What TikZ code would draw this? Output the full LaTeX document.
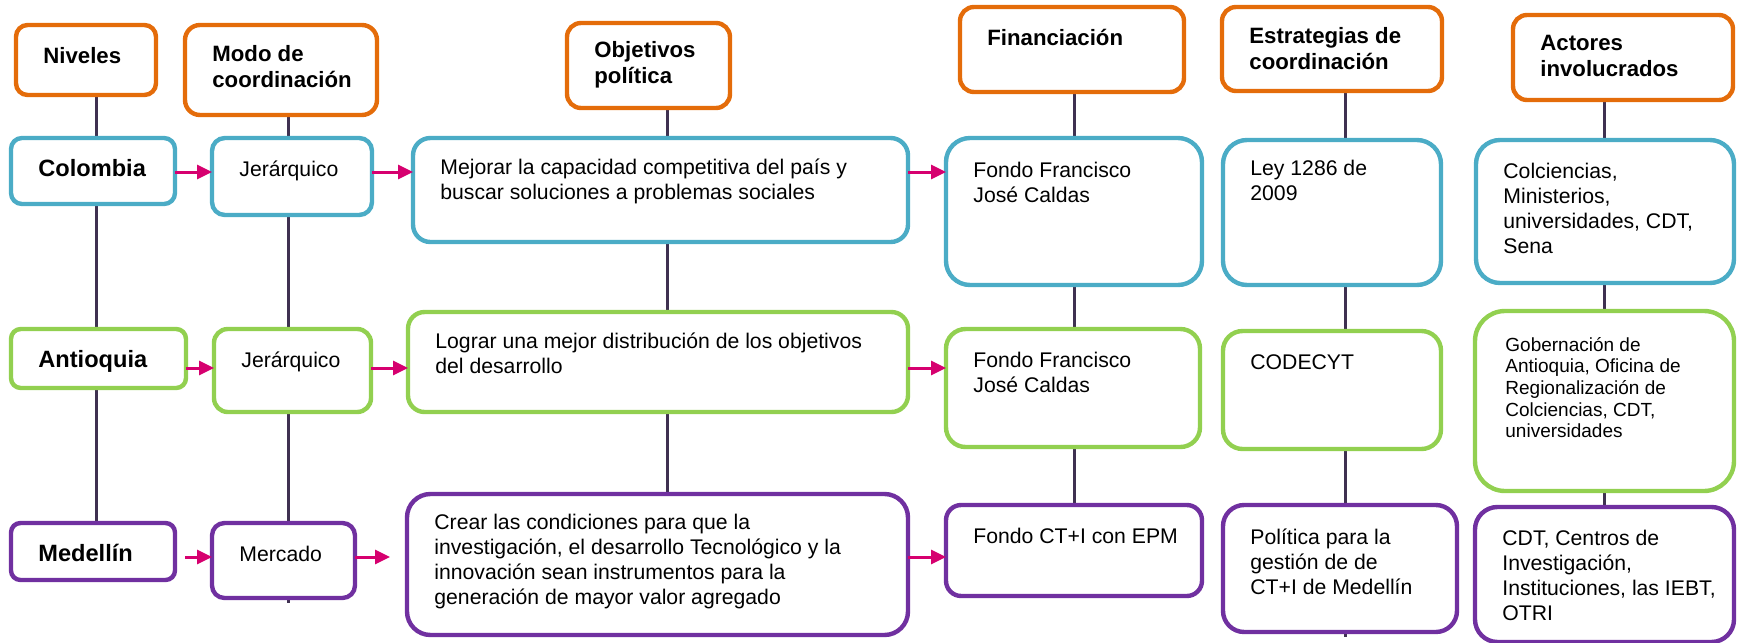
\documentclass[tikz,border=0pt]{standalone}
\usepackage{fontspec}
\setmainfont{Liberation Sans}
\usetikzlibrary{arrows.meta,backgrounds,calc}
\definecolor{naranja}{RGB}{228,108,10}
\definecolor{celeste}{RGB}{75,172,198}
\definecolor{verde}{RGB}{146,208,80}
\definecolor{morado}{RGB}{112,48,160}
\definecolor{fucsia}{RGB}{214,0,111}
\definecolor{oscuro}{RGB}{63,49,81}
\newcommand{\fcab}{\bfseries\fontsize{11.1}{13}\selectfont}
\newcommand{\fniv}{\bfseries\fontsize{11.8}{14}\selectfont}
\newcommand{\ftxt}{\fontsize{10.6}{12.5}\selectfont}
\newcommand{\fpeq}{\fontsize{9.5}{10.8}\selectfont}
\tikzset{
  caja/.style={draw, line width=2.2pt, fill=white, inner sep=0pt, outer sep=0pt, anchor=north west},
  cab/.style={caja, draw=naranja},
  fila1/.style={caja, draw=celeste},
  fila2/.style={caja, draw=verde},
  fila3/.style={caja, draw=morado},
  txt/.style={anchor=north west, inner sep=0pt, align=left, xshift=13.5pt, yshift=-10pt,
    font=\ftxt, execute at begin node={\rule{0pt}{9pt}}},
  flecha/.style={fucsia, line width=1.5pt, -{Triangle[length=7.5pt,width=7pt]}},
  linea/.style={oscuro, line width=1.5pt},
}
\begin{document}
\begin{tikzpicture}[x=0.5pt, y=-0.5pt]
	\useasboundingbox (0,0) rectangle (1737,643);
	% Spalten und Zeilen
	\coordinate (k1) at (96,0);
	\coordinate (k2) at (288,0);
	\coordinate (k3) at (667,0);
	\coordinate (k4) at (1074,0);
	\coordinate (k5) at (1345,0);
	\coordinate (k6) at (1604,0);
	\coordinate (f1) at (0,172);
	\coordinate (f2) at (0,368);
	\coordinate (f3) at (0,557);
	% Encabezados
	\node[cab, minimum width=70pt, minimum height=35pt, rounded corners=5.8pt,
		label={[txt,font=\fcab]north west:Niveles}] (niv) at (16,25) {};
	\node[cab, minimum width=96pt, minimum height=45pt, rounded corners=7.5pt,
		label={[txt,font=\fcab]north west:{Modo de\\coordinación}}] (modo) at (185,25) {};
	\node[cab, minimum width=81.5pt, minimum height=42.5pt, rounded corners=7pt,
		label={[txt,font=\fcab,yshift=1pt]north west:{Objetivos\\política}}] (obj) at (567,23) {};
	\node[cab, minimum width=112pt, minimum height=42.5pt, rounded corners=7pt,
		label={[txt,font=\fcab]north west:Financiación}] (fin) at (960,7) {};
	\node[cab, minimum width=110pt, minimum height=42pt, rounded corners=7pt,
		label={[txt,font=\fcab]north west:{Estrategias de\\coordinación}}] (est) at (1222,7) {};
	\node[cab, minimum width=110pt, minimum height=42.5pt, rounded corners=7pt,
		label={[txt,font=\fcab]north west:{Actores\\involucrados}}] (act) at (1513,15) {};
	% Colombia
	\node[fila1, minimum width=82pt, minimum height=33pt, rounded corners=5.5pt,
		label={[txt,font=\fniv]north west:Colombia}] (col) at (11,138) {};
	\node[fila1, minimum width=80pt, minimum height=38.5pt, rounded corners=6.4pt,
		label={[txt]north west:Jerárquico}] (jer1) at (212,138) {};
	\node[fila1, minimum width=247.5pt, minimum height=52pt, rounded corners=8.7pt,
		label={[txt]north west:{Mejorar la capacidad competitiva del país y\\buscar soluciones a problemas sociales}}] (mej) at (413,138) {};
	\node[fila1, minimum width=128pt, minimum height=73.5pt, rounded corners=12pt,
		label={[txt,yshift=-2pt]north west:{Fondo Francisco\\José Caldas}}] (fon1) at (946,138) {};
	\node[fila1, minimum width=109pt, minimum height=72.5pt, rounded corners=12pt,
		label={[txt]north west:{Ley 1286 de\\2009}}] (ley) at (1223,140) {};
	\node[fila1, minimum width=129pt, minimum height=71.5pt, rounded corners=12pt,
		label={[txt,yshift=-1.5pt]north west:{Colciencias,\\Ministerios,\\universidades, CDT,\\Sena}}] (colc) at (1476,140) {};
	% Antioquia
	\node[fila2, minimum width=87.5pt, minimum height=29.5pt, rounded corners=4.9pt,
		label={[txt,font=\fniv]north west:Antioquia}] (ant) at (11,329) {};
	\node[fila2, minimum width=78.5pt, minimum height=41.5pt, rounded corners=6.9pt,
		label={[txt]north west:Jerárquico}] (jer2) at (214,329) {};
	\node[fila2, minimum width=250pt, minimum height=50pt, rounded corners=8.3pt,
		label={[txt]north west:{Lograr una mejor distribución de los objetivos\\del desarrollo}}] (log) at (408,312) {};
	\node[fila2, minimum width=127pt, minimum height=59pt, rounded corners=9.8pt,
		label={[txt,yshift=-1.5pt]north west:{Fondo Francisco\\José Caldas}}] (fon2) at (946,329) {};
	\node[fila2, minimum width=109pt, minimum height=59pt, rounded corners=9.8pt,
		label={[txt]north west:CODECYT}] (cod) at (1223,331) {};
	\node[fila2, minimum width=129.5pt, minimum height=90pt, rounded corners=15pt,
		label={[txt,font=\fpeq,xshift=1.5pt,yshift=-3pt]north west:{Gobernación de\\Antioquia, Oficina de\\Regionalización de\\Colciencias, CDT,\\universidades}}] (gob) at (1475,311) {};
	% Medellin
	\node[fila3, minimum width=82pt, minimum height=28.5pt, rounded corners=4.75pt,
		label={[txt,font=\fniv]north west:Medellín}] (med) at (11,523) {};
	\node[fila3, minimum width=71.5pt, minimum height=37.5pt, rounded corners=6.25pt,
		label={[txt]north west:Mercado}] (mer) at (212,523) {};
	\node[fila3, minimum width=250.5pt, minimum height=70.5pt, rounded corners=11.75pt,
		label={[txt]north west:{Crear las condiciones para que la\\investigación, el desarrollo Tecnológico y la\\innovación sean instrumentos para la\\generación de mayor valor agregado}}] (cre) at (407,494) {};
	\node[fila3, minimum width=128pt, minimum height=45.5pt, rounded corners=7.6pt,
		label={[txt]north west:Fondo CT+I con EPM}] (fon3) at (946,505) {};
	\node[fila3, minimum width=117pt, minimum height=63.5pt, rounded corners=10.6pt,
		label={[txt,yshift=-1.5pt]north west:{Política para la\\gestión de de\\CT+I de Medellín}}] (pol) at (1223,505) {};
	\node[fila3, minimum width=129.5pt, minimum height=67.5pt, rounded corners=11.25pt,
		label={[txt,yshift=-1.5pt]north west:{CDT, Centros de\\Investigación,\\Instituciones, las IEBT,\\OTRI}}] (cdt) at (1475,507) {};
	% Verbindungen
	\begin{scope}[on background layer]
		\draw[linea] (niv.south -| k1) -- (col.north -| k1);
		\draw[linea] (col.south -| k1) -- (ant.north -| k1);
		\draw[linea] (ant.south -| k1) -- (med.north -| k1);
		\draw[linea] (modo.south -| k2) -- (jer1.north -| k2);
		\draw[linea] (jer1.south -| k2) -- (jer2.north -| k2);
		\draw[linea] (jer2.south -| k2) -- (mer.north -| k2);
		\draw[linea] (mer.south -| k2) -- ++(0,5);
		\draw[linea] (obj.south -| k3) -- (mej.north -| k3);
		\draw[linea] (mej.south -| k3) -- (log.north -| k3);
		\draw[linea] (log.south -| k3) -- (cre.north -| k3);
		\draw[linea] (fin.south -| k4) -- (fon1.north -| k4);
		\draw[linea] (fon1.south -| k4) -- (fon2.north -| k4);
		\draw[linea] (fon2.south -| k4) -- (fon3.north -| k4);
		\draw[linea] (est.south -| k5) -- (ley.north -| k5);
		\draw[linea] (ley.south -| k5) -- (cod.north -| k5);
		\draw[linea] (cod.south -| k5) -- (pol.north -| k5);
		\draw[linea] (pol.south -| k5) -- ++(0,5);
		\draw[linea] (act.south -| k6) -- (colc.north -| k6);
		\draw[linea] (colc.south -| k6) -- (gob.north -| k6);
		\draw[linea] (gob.south -| k6) -- (cdt.north -| k6);
	\end{scope}
	% Pfeile
	\draw[flecha] (col.east |- f1) -- (jer1.west |- f1);
	\draw[flecha] (jer1.east |- f1) -- (mej.west |- f1);
	\draw[flecha] (mej.east |- f1) -- (fon1.west |- f1);
	\draw[flecha] (ant.east |- f2) -- (jer2.west |- f2);
	\draw[flecha] (jer2.east |- f2) -- (log.west |- f2);
	\draw[flecha] (log.east |- f2) -- (fon2.west |- f2);
	\draw[flecha] ($(med.east |- f3)+(10,0)$) -- (mer.west |- f3);
	\draw[flecha] (mer.east |- f3) -- ($(cre.west |- f3)+(-17,0)$);
	\draw[flecha] (cre.east |- f3) -- (fon3.west |- f3);
\end{tikzpicture}
\end{document}
